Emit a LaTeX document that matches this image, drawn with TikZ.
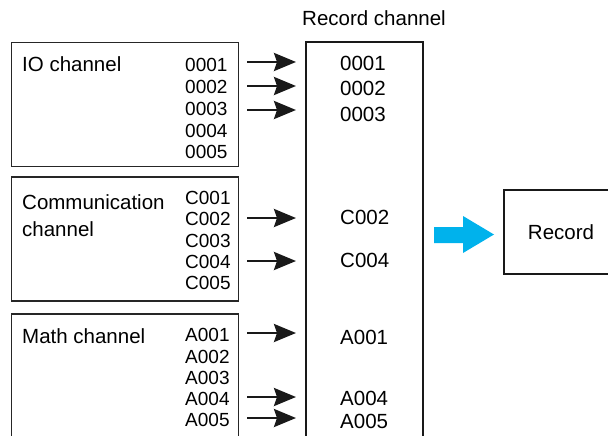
\documentclass[tikz,border=0pt]{standalone}
\usepackage{fontspec}
\setmainfont{Liberation Sans}
\usetikzlibrary{arrows.meta}
\definecolor{arrowblue}{RGB}{0,178,236}
\tikzset{
  chbox/.style={draw=black!85, line width=1.2pt},
  recbox/.style={draw=black!90, line width=2.2pt},
  big/.style={font=\fontsize{20.5}{24}\selectfont, inner sep=0pt},
  code/.style={font=\fontsize{19}{22}\selectfont, inner sep=0pt, anchor=west},
  rcode/.style={font=\fontsize{20.5}{24}\selectfont, inner sep=0pt, anchor=west},
  feed/.style={line width=2.6pt, black!90, -{Stealth[length=22pt,width=18pt,inset=3pt]}},
}
\begin{document}
\begin{tikzpicture}[x=1pt,y=-1pt]
\useasboundingbox (0,0) rectangle (608,436);
\clip (0,0) rectangle (608,436);
% boxes
\draw[chbox] (11.5,42.5) rectangle (238.5,166.5);
\draw[chbox] (11.5,177) rectangle (238.5,301);
\draw[chbox] (11.5,314) rectangle (238.5,460);
\draw[recbox] (306,42) rectangle (423,460);
\draw[recbox] (504,190) rectangle (630,274);
% titles
\node[big] (rct) at (374,18) {Record channel};
\node[big, anchor=west] (io) at (22,64.5) {IO channel};
\node[big, anchor=west] (comm1) at (22,202) {Communication};
\node[big, anchor=west] (comm2) at (22,229) {channel};
\node[big, anchor=west] (math) at (22,336) {Math channel};
\node[big] (rec) at (561,232) {Record};
% IO codes
\node[code] (i1) at (185,65) {0001};
\node[code] (i2) at (185,87) {0002};
\node[code] (i3) at (185,108.5) {0003};
\node[code] (i4) at (185,130.5) {0004};
\node[code] (i5) at (185,152) {0005};
% Comm codes
\node[code] (c1) at (185,198) {C001};
\node[code] (c2) at (185,219) {C002};
\node[code] (c3) at (185,241) {C003};
\node[code] (c4) at (185,262) {C004};
\node[code] (c5) at (185,283) {C005};
% Math codes
\node[code] (a1) at (185,335) {A001};
\node[code] (a2) at (185,357) {A002};
\node[code] (a3) at (185,377.5) {A003};
\node[code] (a4) at (185,399) {A004};
\node[code] (a5) at (185,419.5) {A005};
% record channel codes
\node[rcode] (r1) at (340,63.5) {0001};
\node[rcode] (r2) at (340,88) {0002};
\node[rcode] (r3) at (340,114) {0003};
\node[rcode] (r4) at (340,217.5) {C002};
\node[rcode] (r5) at (340,260) {C004};
\node[rcode] (r6) at (340,337) {A001};
\node[rcode] (r7) at (340,398) {A004};
\node[rcode] (r8) at (340,421) {A005};
% arrows
\foreach \n/\y in {1/62,2/86,3/110,4/218,5/261,6/333,7/397,8/418}{
  \coordinate (s\n) at (247,\y);
  \coordinate (t\n) at (296,\y);
  \draw[feed] (s\n) -- (t\n);
}
% blue arrow
\fill[arrowblue] (434,227) -- (463,227) -- (463,216) -- (494,234.5) -- (463,253) -- (463,243) -- (434,243) -- cycle;
\end{tikzpicture}
\end{document}
